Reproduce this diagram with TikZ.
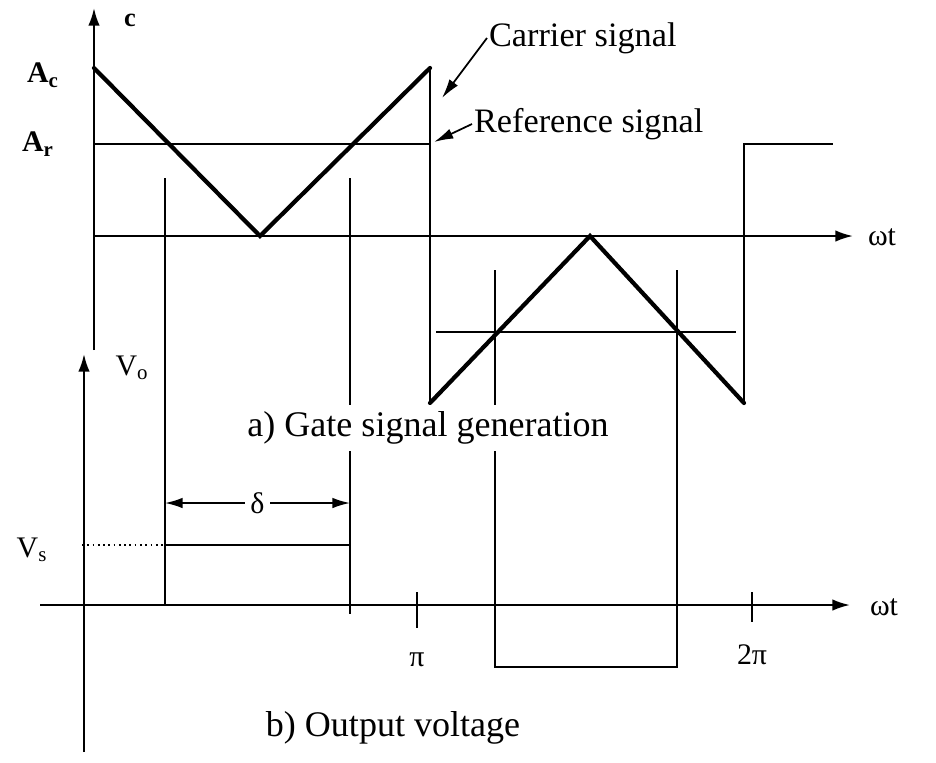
\documentclass[tikz,border=0pt]{standalone}
\usepackage{fontspec}
\setmainfont{Liberation Serif}
\usetikzlibrary{arrows.meta}

\begin{document}
\begin{tikzpicture}[x=0.02cm,y=-0.02cm,
  % axes with filled heads
  axis/.style={line width=1.2pt,-{Latex[length=10pt,width=6.5pt]}},
  % thick triangle carrier, thinner jumps and reference
  carrier/.style={line width=2.4pt,line cap=round},
  wave/.style={line width=1.3pt},
  guide/.style={line width=0.7pt},
  ptr/.style={line width=1pt,-{Latex[length=11pt,width=6pt]}},
  dim/.style={line width=1pt,{Latex[length=10pt,width=6pt]}-{Latex[length=10pt,width=6pt]}},
  lbl/.style={font=\fontsize{17}{20}\selectfont,inner sep=1pt},
  sig/.style={font=\fontsize{19.5}{23}\selectfont,inner sep=1pt,anchor=west},
  capt/.style={font=\fontsize{20.5}{24}\selectfont,fill=white,inner sep=4pt}
]
  \useasboundingbox (0,0) rectangle (936,762);

  % ---- Free ends (pixel grid, y downwards) ----
  \coordinate (cartip) at (442,98);
  \coordinate (reftip) at (434,142);
  \coordinate (vsdot)  at (82,545);

  % ---- a) Gate signal generation ----
  \draw[axis] (94,350) -- (94,8);
  \draw[axis] (94,236) -- (853,236);
  \draw[guide] (165,178) -- (165,605);
  \draw[guide] (350,178) -- (350,614);
  \draw[guide] (495,270) -- (495,605);
  \draw[guide] (677,270) -- (677,605);
  \draw[wave] (94,144) -- (430,144);
  \draw[wave] (436,332) -- (736,332);
  \draw[wave] (430,68) -- (430,403);
  \draw[wave] (744,403) -- (744,144) -- (833,144);
  \draw[carrier] (94,68) -- (260,236) -- (430,68);
  \draw[carrier] (430,403) -- (590,236) -- (744,403);

  \node[lbl,font=\fontsize{15}{18}\selectfont\bfseries] (clbl) at (130,20) {c};
  \node[lbl,font=\fontsize{17}{20}\selectfont\bfseries] (aclbl) at (43,75) {A\textsubscript{c}};
  \node[lbl,font=\fontsize{17}{20}\selectfont\bfseries] (arlbl) at (38,144) {A\textsubscript{r}};
  \node[sig] (carlbl) at (487,38)  {Carrier signal};
  \node[sig] (reflbl) at (472,124) {Reference signal};
  \node[lbl] (wtup) at (882,237) {ωt};
  \draw[ptr] (carlbl.west) -- (cartip);
  \draw[ptr] (reflbl.west) -- (reftip);
  \node[capt] (capa) at (428,428) {a) Gate signal generation};

  % ---- b) Output voltage ----
  \draw[axis] (84,752) -- (84,354);
  \draw[axis] (40,605) -- (850,605);
  \draw[wave] (165,605) |- (350,545) -- (350,605);
  \draw[wave] (495,605) |- (677,667) -- (677,605);
  \draw[line width=1.5pt] (417,592) -- (417,628);
  \draw[line width=1.5pt] (752,592) -- (752,622);

  \node[lbl] (volbl) at (132,368) {V\textsubscript{o}};
  \node[lbl] (vslbl) at (32,550) {V\textsubscript{s}};
  \draw[dotted,line width=1pt] (vsdot) -- (165,545);
  \draw[dim] (165,503) -- node[lbl,fill=white,inner sep=3pt] (dlbl) {δ} (350,503);
  \node[lbl] (pilbl) at (417,660) {π};
  \node[lbl] (twopilbl) at (752,655) {2π};
  \node[lbl] (wtlow) at (884,607) {ωt};
  \node[capt] (capb) at (393,728) {b) Output voltage};
\end{tikzpicture}
\end{document}
